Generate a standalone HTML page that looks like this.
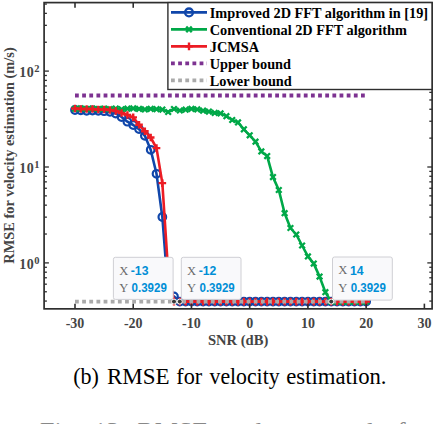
<!DOCTYPE html>
<html><head><meta charset="utf-8"><style>
html,body{margin:0;padding:0;background:#fff;width:434px;height:424px;overflow:hidden;position:relative}
</style></head><body>
<svg width="434" height="424" viewBox="0 0 434 424" style="position:absolute;left:0;top:0">
<defs><clipPath id="c"><rect x="44.1" y="2.6" width="388.0" height="306.25"/></clipPath></defs>
<g clip-path="url(#c)">
<polyline points="75.00,110.00 80.82,110.40 86.65,110.80 92.47,110.50 98.29,110.80 104.12,111.20 109.94,111.80 115.76,113.50 121.58,117.00 127.41,121.70 133.23,125.00 139.05,129.10 144.88,135.80 150.70,149.80 156.52,173.80 162.34,217.00 168.17,292.00 173.99,296.50 179.81,301.60 185.64,301.60 191.46,301.60 197.28,301.60 203.11,301.60 208.93,301.60 214.75,301.60 220.58,301.60 226.40,301.60 232.22,301.60 238.04,301.60 243.87,301.60 249.69,301.60 255.51,301.60 261.34,301.60 267.16,301.60 272.98,301.60 278.81,301.60 284.63,301.60 290.45,301.60 296.27,301.60 302.10,301.60 307.92,301.60 313.74,301.60 319.57,301.60 325.39,301.60 331.21,301.60 337.04,301.60 342.86,301.60 348.68,301.60 354.50,301.60 360.33,301.60 366.15,301.60" fill="none" stroke="#1046aa" stroke-width="2.6" stroke-linejoin="round"/>
<circle cx="75.00" cy="110.00" r="3.8" fill="none" stroke="#1046aa" stroke-width="2.2"/>
<circle cx="80.82" cy="110.40" r="3.8" fill="none" stroke="#1046aa" stroke-width="2.2"/>
<circle cx="86.65" cy="110.80" r="3.8" fill="none" stroke="#1046aa" stroke-width="2.2"/>
<circle cx="92.47" cy="110.50" r="3.8" fill="none" stroke="#1046aa" stroke-width="2.2"/>
<circle cx="98.29" cy="110.80" r="3.8" fill="none" stroke="#1046aa" stroke-width="2.2"/>
<circle cx="104.12" cy="111.20" r="3.8" fill="none" stroke="#1046aa" stroke-width="2.2"/>
<circle cx="109.94" cy="111.80" r="3.8" fill="none" stroke="#1046aa" stroke-width="2.2"/>
<circle cx="115.76" cy="113.50" r="3.8" fill="none" stroke="#1046aa" stroke-width="2.2"/>
<circle cx="121.58" cy="117.00" r="3.8" fill="none" stroke="#1046aa" stroke-width="2.2"/>
<circle cx="127.41" cy="121.70" r="3.8" fill="none" stroke="#1046aa" stroke-width="2.2"/>
<circle cx="133.23" cy="125.00" r="3.8" fill="none" stroke="#1046aa" stroke-width="2.2"/>
<circle cx="139.05" cy="129.10" r="3.8" fill="none" stroke="#1046aa" stroke-width="2.2"/>
<circle cx="144.88" cy="135.80" r="3.8" fill="none" stroke="#1046aa" stroke-width="2.2"/>
<circle cx="150.70" cy="149.80" r="3.8" fill="none" stroke="#1046aa" stroke-width="2.2"/>
<circle cx="156.52" cy="173.80" r="3.8" fill="none" stroke="#1046aa" stroke-width="2.2"/>
<circle cx="162.34" cy="217.00" r="3.8" fill="none" stroke="#1046aa" stroke-width="2.2"/>
<circle cx="168.17" cy="292.00" r="3.8" fill="none" stroke="#1046aa" stroke-width="2.2"/>
<circle cx="173.99" cy="296.50" r="3.8" fill="none" stroke="#1046aa" stroke-width="2.2"/>
<circle cx="179.81" cy="301.60" r="3.8" fill="none" stroke="#1046aa" stroke-width="2.2"/>
<circle cx="185.64" cy="301.60" r="3.8" fill="none" stroke="#1046aa" stroke-width="2.2"/>
<circle cx="191.46" cy="301.60" r="3.8" fill="none" stroke="#1046aa" stroke-width="2.2"/>
<circle cx="197.28" cy="301.60" r="3.8" fill="none" stroke="#1046aa" stroke-width="2.2"/>
<circle cx="203.11" cy="301.60" r="3.8" fill="none" stroke="#1046aa" stroke-width="2.2"/>
<circle cx="208.93" cy="301.60" r="3.8" fill="none" stroke="#1046aa" stroke-width="2.2"/>
<circle cx="214.75" cy="301.60" r="3.8" fill="none" stroke="#1046aa" stroke-width="2.2"/>
<circle cx="220.58" cy="301.60" r="3.8" fill="none" stroke="#1046aa" stroke-width="2.2"/>
<circle cx="226.40" cy="301.60" r="3.8" fill="none" stroke="#1046aa" stroke-width="2.2"/>
<circle cx="232.22" cy="301.60" r="3.8" fill="none" stroke="#1046aa" stroke-width="2.2"/>
<circle cx="238.04" cy="301.60" r="3.8" fill="none" stroke="#1046aa" stroke-width="2.2"/>
<circle cx="243.87" cy="301.60" r="3.8" fill="none" stroke="#1046aa" stroke-width="2.2"/>
<circle cx="249.69" cy="301.60" r="3.8" fill="none" stroke="#1046aa" stroke-width="2.2"/>
<circle cx="255.51" cy="301.60" r="3.8" fill="none" stroke="#1046aa" stroke-width="2.2"/>
<circle cx="261.34" cy="301.60" r="3.8" fill="none" stroke="#1046aa" stroke-width="2.2"/>
<circle cx="267.16" cy="301.60" r="3.8" fill="none" stroke="#1046aa" stroke-width="2.2"/>
<circle cx="272.98" cy="301.60" r="3.8" fill="none" stroke="#1046aa" stroke-width="2.2"/>
<circle cx="278.81" cy="301.60" r="3.8" fill="none" stroke="#1046aa" stroke-width="2.2"/>
<circle cx="284.63" cy="301.60" r="3.8" fill="none" stroke="#1046aa" stroke-width="2.2"/>
<circle cx="290.45" cy="301.60" r="3.8" fill="none" stroke="#1046aa" stroke-width="2.2"/>
<circle cx="296.27" cy="301.60" r="3.8" fill="none" stroke="#1046aa" stroke-width="2.2"/>
<circle cx="302.10" cy="301.60" r="3.8" fill="none" stroke="#1046aa" stroke-width="2.2"/>
<circle cx="307.92" cy="301.60" r="3.8" fill="none" stroke="#1046aa" stroke-width="2.2"/>
<circle cx="313.74" cy="301.60" r="3.8" fill="none" stroke="#1046aa" stroke-width="2.2"/>
<circle cx="319.57" cy="301.60" r="3.8" fill="none" stroke="#1046aa" stroke-width="2.2"/>
<circle cx="325.39" cy="301.60" r="3.8" fill="none" stroke="#1046aa" stroke-width="2.2"/>
<circle cx="331.21" cy="301.60" r="3.8" fill="none" stroke="#1046aa" stroke-width="2.2"/>
<circle cx="337.04" cy="301.60" r="3.8" fill="none" stroke="#1046aa" stroke-width="2.2"/>
<circle cx="342.86" cy="301.60" r="3.8" fill="none" stroke="#1046aa" stroke-width="2.2"/>
<circle cx="348.68" cy="301.60" r="3.8" fill="none" stroke="#1046aa" stroke-width="2.2"/>
<circle cx="354.50" cy="301.60" r="3.8" fill="none" stroke="#1046aa" stroke-width="2.2"/>
<circle cx="360.33" cy="301.60" r="3.8" fill="none" stroke="#1046aa" stroke-width="2.2"/>
<circle cx="366.15" cy="301.60" r="3.8" fill="none" stroke="#1046aa" stroke-width="2.2"/>
<polyline points="75.00,108.80 80.82,108.40 86.65,109.00 92.47,108.50 98.29,109.00 104.12,108.60 109.94,109.20 115.76,108.60 121.58,109.30 127.41,108.70 133.23,108.40 139.05,108.90 144.88,109.40 150.70,108.80 156.52,109.20 162.34,109.60 168.17,112.00 173.99,109.00 179.81,110.50 185.64,109.70 191.46,108.80 197.28,109.40 203.11,110.70 208.93,111.60 214.75,112.90 220.58,113.40 226.40,116.20 232.22,120.00 238.04,122.40 243.87,129.30 249.69,135.30 255.51,141.70 261.34,151.40 267.16,156.10 272.98,177.10 278.81,190.00 284.63,213.20 290.45,228.00 296.27,234.50 302.10,245.50 307.92,256.40 313.74,263.60 319.57,276.60 325.39,292.20 331.21,301.60 337.04,301.60 342.86,301.60 348.68,301.60 354.50,301.60 360.33,301.60 366.15,301.60" fill="none" stroke="#00a848" stroke-width="2.6" stroke-linejoin="round"/>
<path d="M72.20,106.00L77.80,111.60M72.20,111.60L77.80,106.00" stroke="#00a848" stroke-width="2.3"/>
<path d="M78.02,105.60L83.62,111.20M78.02,111.20L83.62,105.60" stroke="#00a848" stroke-width="2.3"/>
<path d="M83.85,106.20L89.45,111.80M83.85,111.80L89.45,106.20" stroke="#00a848" stroke-width="2.3"/>
<path d="M89.67,105.70L95.27,111.30M89.67,111.30L95.27,105.70" stroke="#00a848" stroke-width="2.3"/>
<path d="M95.49,106.20L101.09,111.80M95.49,111.80L101.09,106.20" stroke="#00a848" stroke-width="2.3"/>
<path d="M101.32,105.80L106.92,111.40M101.32,111.40L106.92,105.80" stroke="#00a848" stroke-width="2.3"/>
<path d="M107.14,106.40L112.74,112.00M107.14,112.00L112.74,106.40" stroke="#00a848" stroke-width="2.3"/>
<path d="M112.96,105.80L118.56,111.40M112.96,111.40L118.56,105.80" stroke="#00a848" stroke-width="2.3"/>
<path d="M118.78,106.50L124.38,112.10M118.78,112.10L124.38,106.50" stroke="#00a848" stroke-width="2.3"/>
<path d="M124.61,105.90L130.21,111.50M124.61,111.50L130.21,105.90" stroke="#00a848" stroke-width="2.3"/>
<path d="M130.43,105.60L136.03,111.20M130.43,111.20L136.03,105.60" stroke="#00a848" stroke-width="2.3"/>
<path d="M136.25,106.10L141.85,111.70M136.25,111.70L141.85,106.10" stroke="#00a848" stroke-width="2.3"/>
<path d="M142.08,106.60L147.68,112.20M142.08,112.20L147.68,106.60" stroke="#00a848" stroke-width="2.3"/>
<path d="M147.90,106.00L153.50,111.60M147.90,111.60L153.50,106.00" stroke="#00a848" stroke-width="2.3"/>
<path d="M153.72,106.40L159.32,112.00M153.72,112.00L159.32,106.40" stroke="#00a848" stroke-width="2.3"/>
<path d="M159.54,106.80L165.15,112.40M159.54,112.40L165.15,106.80" stroke="#00a848" stroke-width="2.3"/>
<path d="M165.37,109.20L170.97,114.80M165.37,114.80L170.97,109.20" stroke="#00a848" stroke-width="2.3"/>
<path d="M171.19,106.20L176.79,111.80M171.19,111.80L176.79,106.20" stroke="#00a848" stroke-width="2.3"/>
<path d="M177.01,107.70L182.61,113.30M177.01,113.30L182.61,107.70" stroke="#00a848" stroke-width="2.3"/>
<path d="M182.84,106.90L188.44,112.50M182.84,112.50L188.44,106.90" stroke="#00a848" stroke-width="2.3"/>
<path d="M188.66,106.00L194.26,111.60M188.66,111.60L194.26,106.00" stroke="#00a848" stroke-width="2.3"/>
<path d="M194.48,106.60L200.08,112.20M194.48,112.20L200.08,106.60" stroke="#00a848" stroke-width="2.3"/>
<path d="M200.31,107.90L205.91,113.50M200.31,113.50L205.91,107.90" stroke="#00a848" stroke-width="2.3"/>
<path d="M206.13,108.80L211.73,114.40M206.13,114.40L211.73,108.80" stroke="#00a848" stroke-width="2.3"/>
<path d="M211.95,110.10L217.55,115.70M211.95,115.70L217.55,110.10" stroke="#00a848" stroke-width="2.3"/>
<path d="M217.78,110.60L223.38,116.20M217.78,116.20L223.38,110.60" stroke="#00a848" stroke-width="2.3"/>
<path d="M223.60,113.40L229.20,119.00M223.60,119.00L229.20,113.40" stroke="#00a848" stroke-width="2.3"/>
<path d="M229.42,117.20L235.02,122.80M229.42,122.80L235.02,117.20" stroke="#00a848" stroke-width="2.3"/>
<path d="M235.24,119.60L240.84,125.20M235.24,125.20L240.84,119.60" stroke="#00a848" stroke-width="2.3"/>
<path d="M241.07,126.50L246.67,132.10M241.07,132.10L246.67,126.50" stroke="#00a848" stroke-width="2.3"/>
<path d="M246.89,132.50L252.49,138.10M246.89,138.10L252.49,132.50" stroke="#00a848" stroke-width="2.3"/>
<path d="M252.71,138.90L258.31,144.50M252.71,144.50L258.31,138.90" stroke="#00a848" stroke-width="2.3"/>
<path d="M258.54,148.60L264.14,154.20M258.54,154.20L264.14,148.60" stroke="#00a848" stroke-width="2.3"/>
<path d="M264.36,153.30L269.96,158.90M264.36,158.90L269.96,153.30" stroke="#00a848" stroke-width="2.3"/>
<path d="M270.18,174.30L275.78,179.90M270.18,179.90L275.78,174.30" stroke="#00a848" stroke-width="2.3"/>
<path d="M276.00,187.20L281.61,192.80M276.00,192.80L281.61,187.20" stroke="#00a848" stroke-width="2.3"/>
<path d="M281.83,210.40L287.43,216.00M281.83,216.00L287.43,210.40" stroke="#00a848" stroke-width="2.3"/>
<path d="M287.65,225.20L293.25,230.80M287.65,230.80L293.25,225.20" stroke="#00a848" stroke-width="2.3"/>
<path d="M293.47,231.70L299.07,237.30M293.47,237.30L299.07,231.70" stroke="#00a848" stroke-width="2.3"/>
<path d="M299.30,242.70L304.90,248.30M299.30,248.30L304.90,242.70" stroke="#00a848" stroke-width="2.3"/>
<path d="M305.12,253.60L310.72,259.20M305.12,259.20L310.72,253.60" stroke="#00a848" stroke-width="2.3"/>
<path d="M310.94,260.80L316.54,266.40M310.94,266.40L316.54,260.80" stroke="#00a848" stroke-width="2.3"/>
<path d="M316.77,273.80L322.37,279.40M316.77,279.40L322.37,273.80" stroke="#00a848" stroke-width="2.3"/>
<path d="M322.59,289.40L328.19,295.00M322.59,295.00L328.19,289.40" stroke="#00a848" stroke-width="2.3"/>
<path d="M328.41,298.80L334.01,304.40M328.41,304.40L334.01,298.80" stroke="#00a848" stroke-width="2.3"/>
<path d="M334.24,298.80L339.84,304.40M334.24,304.40L339.84,298.80" stroke="#00a848" stroke-width="2.3"/>
<path d="M340.06,298.80L345.66,304.40M340.06,304.40L345.66,298.80" stroke="#00a848" stroke-width="2.3"/>
<path d="M345.88,298.80L351.48,304.40M345.88,304.40L351.48,298.80" stroke="#00a848" stroke-width="2.3"/>
<path d="M351.70,298.80L357.30,304.40M351.70,304.40L357.30,298.80" stroke="#00a848" stroke-width="2.3"/>
<path d="M357.53,298.80L363.13,304.40M357.53,304.40L363.13,298.80" stroke="#00a848" stroke-width="2.3"/>
<path d="M363.35,298.80L368.95,304.40M363.35,304.40L368.95,298.80" stroke="#00a848" stroke-width="2.3"/>
<polyline points="75.00,108.50 80.82,109.00 86.65,109.00 92.47,109.00 98.29,109.50 104.12,109.50 109.94,110.00 115.76,111.00 121.58,113.00 127.41,115.00 133.23,117.40 139.05,124.80 144.88,131.20 150.70,137.50 156.52,148.10 162.34,183.10 168.17,272.00 173.99,301.60 179.81,301.60 185.64,301.60 191.46,301.60 197.28,301.60 203.11,301.60 208.93,301.60 214.75,301.60 220.58,301.60 226.40,301.60 232.22,301.60 238.04,301.60 243.87,301.60 249.69,301.60 255.51,301.60 261.34,301.60 267.16,301.60 272.98,301.60 278.81,301.60 284.63,301.60 290.45,301.60 296.27,301.60 302.10,301.60 307.92,301.60 313.74,301.60 319.57,301.60 325.39,301.60 331.21,301.60 337.04,301.60 342.86,301.60 348.68,301.60 354.50,301.60 360.33,301.60 366.15,301.60" fill="none" stroke="#ec1c24" stroke-width="2.6" stroke-linejoin="round"/>
<path d="M71.20,108.50H78.80M75.00,104.70V112.30" stroke="#ec1c24" stroke-width="2.4"/>
<path d="M77.02,109.00H84.62M80.82,105.20V112.80" stroke="#ec1c24" stroke-width="2.4"/>
<path d="M82.85,109.00H90.45M86.65,105.20V112.80" stroke="#ec1c24" stroke-width="2.4"/>
<path d="M88.67,109.00H96.27M92.47,105.20V112.80" stroke="#ec1c24" stroke-width="2.4"/>
<path d="M94.49,109.50H102.09M98.29,105.70V113.30" stroke="#ec1c24" stroke-width="2.4"/>
<path d="M100.32,109.50H107.92M104.12,105.70V113.30" stroke="#ec1c24" stroke-width="2.4"/>
<path d="M106.14,110.00H113.74M109.94,106.20V113.80" stroke="#ec1c24" stroke-width="2.4"/>
<path d="M111.96,111.00H119.56M115.76,107.20V114.80" stroke="#ec1c24" stroke-width="2.4"/>
<path d="M117.78,113.00H125.38M121.58,109.20V116.80" stroke="#ec1c24" stroke-width="2.4"/>
<path d="M123.61,115.00H131.21M127.41,111.20V118.80" stroke="#ec1c24" stroke-width="2.4"/>
<path d="M129.43,117.40H137.03M133.23,113.60V121.20" stroke="#ec1c24" stroke-width="2.4"/>
<path d="M135.25,124.80H142.85M139.05,121.00V128.60" stroke="#ec1c24" stroke-width="2.4"/>
<path d="M141.08,131.20H148.68M144.88,127.40V135.00" stroke="#ec1c24" stroke-width="2.4"/>
<path d="M146.90,137.50H154.50M150.70,133.70V141.30" stroke="#ec1c24" stroke-width="2.4"/>
<path d="M152.72,148.10H160.32M156.52,144.30V151.90" stroke="#ec1c24" stroke-width="2.4"/>
<path d="M158.54,183.10H166.15M162.34,179.30V186.90" stroke="#ec1c24" stroke-width="2.4"/>
<path d="M164.37,272.00H171.97M168.17,268.20V275.80" stroke="#ec1c24" stroke-width="2.4"/>
<path d="M170.19,301.60H177.79M173.99,297.80V305.40" stroke="#ec1c24" stroke-width="2.4"/>
<path d="M176.01,301.60H183.61M179.81,297.80V305.40" stroke="#ec1c24" stroke-width="2.4"/>
<path d="M181.84,301.60H189.44M185.64,297.80V305.40" stroke="#ec1c24" stroke-width="2.4"/>
<path d="M187.66,301.60H195.26M191.46,297.80V305.40" stroke="#ec1c24" stroke-width="2.4"/>
<path d="M193.48,301.60H201.08M197.28,297.80V305.40" stroke="#ec1c24" stroke-width="2.4"/>
<path d="M199.31,301.60H206.91M203.11,297.80V305.40" stroke="#ec1c24" stroke-width="2.4"/>
<path d="M205.13,301.60H212.73M208.93,297.80V305.40" stroke="#ec1c24" stroke-width="2.4"/>
<path d="M210.95,301.60H218.55M214.75,297.80V305.40" stroke="#ec1c24" stroke-width="2.4"/>
<path d="M216.78,301.60H224.38M220.58,297.80V305.40" stroke="#ec1c24" stroke-width="2.4"/>
<path d="M222.60,301.60H230.20M226.40,297.80V305.40" stroke="#ec1c24" stroke-width="2.4"/>
<path d="M228.42,301.60H236.02M232.22,297.80V305.40" stroke="#ec1c24" stroke-width="2.4"/>
<path d="M234.24,301.60H241.84M238.04,297.80V305.40" stroke="#ec1c24" stroke-width="2.4"/>
<path d="M240.07,301.60H247.67M243.87,297.80V305.40" stroke="#ec1c24" stroke-width="2.4"/>
<path d="M245.89,301.60H253.49M249.69,297.80V305.40" stroke="#ec1c24" stroke-width="2.4"/>
<path d="M251.71,301.60H259.31M255.51,297.80V305.40" stroke="#ec1c24" stroke-width="2.4"/>
<path d="M257.54,301.60H265.14M261.34,297.80V305.40" stroke="#ec1c24" stroke-width="2.4"/>
<path d="M263.36,301.60H270.96M267.16,297.80V305.40" stroke="#ec1c24" stroke-width="2.4"/>
<path d="M269.18,301.60H276.78M272.98,297.80V305.40" stroke="#ec1c24" stroke-width="2.4"/>
<path d="M275.00,301.60H282.61M278.81,297.80V305.40" stroke="#ec1c24" stroke-width="2.4"/>
<path d="M280.83,301.60H288.43M284.63,297.80V305.40" stroke="#ec1c24" stroke-width="2.4"/>
<path d="M286.65,301.60H294.25M290.45,297.80V305.40" stroke="#ec1c24" stroke-width="2.4"/>
<path d="M292.47,301.60H300.07M296.27,297.80V305.40" stroke="#ec1c24" stroke-width="2.4"/>
<path d="M298.30,301.60H305.90M302.10,297.80V305.40" stroke="#ec1c24" stroke-width="2.4"/>
<path d="M304.12,301.60H311.72M307.92,297.80V305.40" stroke="#ec1c24" stroke-width="2.4"/>
<path d="M309.94,301.60H317.54M313.74,297.80V305.40" stroke="#ec1c24" stroke-width="2.4"/>
<path d="M315.77,301.60H323.37M319.57,297.80V305.40" stroke="#ec1c24" stroke-width="2.4"/>
<path d="M321.59,301.60H329.19M325.39,297.80V305.40" stroke="#ec1c24" stroke-width="2.4"/>
<path d="M327.41,301.60H335.01M331.21,297.80V305.40" stroke="#ec1c24" stroke-width="2.4"/>
<path d="M333.24,301.60H340.84M337.04,297.80V305.40" stroke="#ec1c24" stroke-width="2.4"/>
<path d="M339.06,301.60H346.66M342.86,297.80V305.40" stroke="#ec1c24" stroke-width="2.4"/>
<path d="M344.88,301.60H352.48M348.68,297.80V305.40" stroke="#ec1c24" stroke-width="2.4"/>
<path d="M350.70,301.60H358.30M354.50,297.80V305.40" stroke="#ec1c24" stroke-width="2.4"/>
<path d="M356.53,301.60H364.13M360.33,297.80V305.40" stroke="#ec1c24" stroke-width="2.4"/>
<path d="M362.35,301.60H369.95M366.15,297.80V305.40" stroke="#ec1c24" stroke-width="2.4"/>
<line x1="75.0" y1="95.5" x2="366.15000000000003" y2="95.5" stroke="#7d3291" stroke-width="3.8" stroke-dasharray="3.8 3.35"/>
<line x1="75.0" y1="301.6" x2="366.15000000000003" y2="301.6" stroke="#aaaaaa" stroke-width="3.8" stroke-dasharray="3.8 3.35"/>
</g>
<rect x="44.1" y="2.6" width="388.0" height="306.25" fill="none" stroke="#2e2e2e" stroke-width="1.7"/>
<line x1="75.00" y1="308.85" x2="75.00" y2="303.65000000000003" stroke="#2e2e2e" stroke-width="1.6"/>
<line x1="75.00" y1="2.6" x2="75.00" y2="7.800000000000001" stroke="#2e2e2e" stroke-width="1.6"/>
<line x1="133.23" y1="308.85" x2="133.23" y2="303.65000000000003" stroke="#2e2e2e" stroke-width="1.6"/>
<line x1="133.23" y1="2.6" x2="133.23" y2="7.800000000000001" stroke="#2e2e2e" stroke-width="1.6"/>
<line x1="191.46" y1="308.85" x2="191.46" y2="303.65000000000003" stroke="#2e2e2e" stroke-width="1.6"/>
<line x1="191.46" y1="2.6" x2="191.46" y2="7.800000000000001" stroke="#2e2e2e" stroke-width="1.6"/>
<line x1="249.69" y1="308.85" x2="249.69" y2="303.65000000000003" stroke="#2e2e2e" stroke-width="1.6"/>
<line x1="249.69" y1="2.6" x2="249.69" y2="7.800000000000001" stroke="#2e2e2e" stroke-width="1.6"/>
<line x1="307.92" y1="308.85" x2="307.92" y2="303.65000000000003" stroke="#2e2e2e" stroke-width="1.6"/>
<line x1="307.92" y1="2.6" x2="307.92" y2="7.800000000000001" stroke="#2e2e2e" stroke-width="1.6"/>
<line x1="366.15" y1="308.85" x2="366.15" y2="303.65000000000003" stroke="#2e2e2e" stroke-width="1.6"/>
<line x1="366.15" y1="2.6" x2="366.15" y2="7.800000000000001" stroke="#2e2e2e" stroke-width="1.6"/>
<line x1="424.38" y1="308.85" x2="424.38" y2="303.65000000000003" stroke="#2e2e2e" stroke-width="1.6"/>
<line x1="424.38" y1="2.6" x2="424.38" y2="7.800000000000001" stroke="#2e2e2e" stroke-width="1.6"/>
<line x1="44.1" y1="262.90" x2="48.9" y2="262.90" stroke="#2e2e2e" stroke-width="1.3"/>
<line x1="432.1" y1="262.90" x2="427.3" y2="262.90" stroke="#2e2e2e" stroke-width="1.3"/>
<line x1="44.1" y1="234.03" x2="46.9" y2="234.03" stroke="#2e2e2e" stroke-width="1.3"/>
<line x1="432.1" y1="234.03" x2="429.3" y2="234.03" stroke="#2e2e2e" stroke-width="1.3"/>
<line x1="44.1" y1="217.14" x2="46.9" y2="217.14" stroke="#2e2e2e" stroke-width="1.3"/>
<line x1="432.1" y1="217.14" x2="429.3" y2="217.14" stroke="#2e2e2e" stroke-width="1.3"/>
<line x1="44.1" y1="205.16" x2="46.9" y2="205.16" stroke="#2e2e2e" stroke-width="1.3"/>
<line x1="432.1" y1="205.16" x2="429.3" y2="205.16" stroke="#2e2e2e" stroke-width="1.3"/>
<line x1="44.1" y1="195.87" x2="46.9" y2="195.87" stroke="#2e2e2e" stroke-width="1.3"/>
<line x1="432.1" y1="195.87" x2="429.3" y2="195.87" stroke="#2e2e2e" stroke-width="1.3"/>
<line x1="44.1" y1="188.28" x2="46.9" y2="188.28" stroke="#2e2e2e" stroke-width="1.3"/>
<line x1="432.1" y1="188.28" x2="429.3" y2="188.28" stroke="#2e2e2e" stroke-width="1.3"/>
<line x1="44.1" y1="181.86" x2="46.9" y2="181.86" stroke="#2e2e2e" stroke-width="1.3"/>
<line x1="432.1" y1="181.86" x2="429.3" y2="181.86" stroke="#2e2e2e" stroke-width="1.3"/>
<line x1="44.1" y1="176.29" x2="46.9" y2="176.29" stroke="#2e2e2e" stroke-width="1.3"/>
<line x1="432.1" y1="176.29" x2="429.3" y2="176.29" stroke="#2e2e2e" stroke-width="1.3"/>
<line x1="44.1" y1="171.39" x2="46.9" y2="171.39" stroke="#2e2e2e" stroke-width="1.3"/>
<line x1="432.1" y1="171.39" x2="429.3" y2="171.39" stroke="#2e2e2e" stroke-width="1.3"/>
<line x1="44.1" y1="167.00" x2="48.9" y2="167.00" stroke="#2e2e2e" stroke-width="1.3"/>
<line x1="432.1" y1="167.00" x2="427.3" y2="167.00" stroke="#2e2e2e" stroke-width="1.3"/>
<line x1="44.1" y1="138.13" x2="46.9" y2="138.13" stroke="#2e2e2e" stroke-width="1.3"/>
<line x1="432.1" y1="138.13" x2="429.3" y2="138.13" stroke="#2e2e2e" stroke-width="1.3"/>
<line x1="44.1" y1="121.24" x2="46.9" y2="121.24" stroke="#2e2e2e" stroke-width="1.3"/>
<line x1="432.1" y1="121.24" x2="429.3" y2="121.24" stroke="#2e2e2e" stroke-width="1.3"/>
<line x1="44.1" y1="109.26" x2="46.9" y2="109.26" stroke="#2e2e2e" stroke-width="1.3"/>
<line x1="432.1" y1="109.26" x2="429.3" y2="109.26" stroke="#2e2e2e" stroke-width="1.3"/>
<line x1="44.1" y1="99.97" x2="46.9" y2="99.97" stroke="#2e2e2e" stroke-width="1.3"/>
<line x1="432.1" y1="99.97" x2="429.3" y2="99.97" stroke="#2e2e2e" stroke-width="1.3"/>
<line x1="44.1" y1="92.38" x2="46.9" y2="92.38" stroke="#2e2e2e" stroke-width="1.3"/>
<line x1="432.1" y1="92.38" x2="429.3" y2="92.38" stroke="#2e2e2e" stroke-width="1.3"/>
<line x1="44.1" y1="85.96" x2="46.9" y2="85.96" stroke="#2e2e2e" stroke-width="1.3"/>
<line x1="432.1" y1="85.96" x2="429.3" y2="85.96" stroke="#2e2e2e" stroke-width="1.3"/>
<line x1="44.1" y1="80.39" x2="46.9" y2="80.39" stroke="#2e2e2e" stroke-width="1.3"/>
<line x1="432.1" y1="80.39" x2="429.3" y2="80.39" stroke="#2e2e2e" stroke-width="1.3"/>
<line x1="44.1" y1="75.49" x2="46.9" y2="75.49" stroke="#2e2e2e" stroke-width="1.3"/>
<line x1="432.1" y1="75.49" x2="429.3" y2="75.49" stroke="#2e2e2e" stroke-width="1.3"/>
<line x1="44.1" y1="71.10" x2="48.9" y2="71.10" stroke="#2e2e2e" stroke-width="1.3"/>
<line x1="432.1" y1="71.10" x2="427.3" y2="71.10" stroke="#2e2e2e" stroke-width="1.3"/>
<line x1="44.1" y1="42.23" x2="46.9" y2="42.23" stroke="#2e2e2e" stroke-width="1.3"/>
<line x1="432.1" y1="42.23" x2="429.3" y2="42.23" stroke="#2e2e2e" stroke-width="1.3"/>
<line x1="44.1" y1="25.34" x2="46.9" y2="25.34" stroke="#2e2e2e" stroke-width="1.3"/>
<line x1="432.1" y1="25.34" x2="429.3" y2="25.34" stroke="#2e2e2e" stroke-width="1.3"/>
<line x1="44.1" y1="13.36" x2="46.9" y2="13.36" stroke="#2e2e2e" stroke-width="1.3"/>
<line x1="432.1" y1="13.36" x2="429.3" y2="13.36" stroke="#2e2e2e" stroke-width="1.3"/>
<line x1="44.1" y1="4.07" x2="46.9" y2="4.07" stroke="#2e2e2e" stroke-width="1.3"/>
<line x1="432.1" y1="4.07" x2="429.3" y2="4.07" stroke="#2e2e2e" stroke-width="1.3"/>
<line x1="44.1" y1="301.06" x2="46.9" y2="301.06" stroke="#2e2e2e" stroke-width="1.3"/>
<line x1="432.1" y1="301.06" x2="429.3" y2="301.06" stroke="#2e2e2e" stroke-width="1.3"/>
<line x1="44.1" y1="291.77" x2="46.9" y2="291.77" stroke="#2e2e2e" stroke-width="1.3"/>
<line x1="432.1" y1="291.77" x2="429.3" y2="291.77" stroke="#2e2e2e" stroke-width="1.3"/>
<line x1="44.1" y1="284.18" x2="46.9" y2="284.18" stroke="#2e2e2e" stroke-width="1.3"/>
<line x1="432.1" y1="284.18" x2="429.3" y2="284.18" stroke="#2e2e2e" stroke-width="1.3"/>
<line x1="44.1" y1="277.76" x2="46.9" y2="277.76" stroke="#2e2e2e" stroke-width="1.3"/>
<line x1="432.1" y1="277.76" x2="429.3" y2="277.76" stroke="#2e2e2e" stroke-width="1.3"/>
<line x1="44.1" y1="272.19" x2="46.9" y2="272.19" stroke="#2e2e2e" stroke-width="1.3"/>
<line x1="432.1" y1="272.19" x2="429.3" y2="272.19" stroke="#2e2e2e" stroke-width="1.3"/>
<line x1="44.1" y1="267.29" x2="46.9" y2="267.29" stroke="#2e2e2e" stroke-width="1.3"/>
<line x1="432.1" y1="267.29" x2="429.3" y2="267.29" stroke="#2e2e2e" stroke-width="1.3"/>
<text x="75.00" y="327.5" font-family="Liberation Serif" font-weight="bold" font-size="14" fill="#454545" text-anchor="middle">-30</text>
<text x="133.23" y="327.5" font-family="Liberation Serif" font-weight="bold" font-size="14" fill="#454545" text-anchor="middle">-20</text>
<text x="191.46" y="327.5" font-family="Liberation Serif" font-weight="bold" font-size="14" fill="#454545" text-anchor="middle">-10</text>
<text x="249.69" y="327.5" font-family="Liberation Serif" font-weight="bold" font-size="14" fill="#454545" text-anchor="middle">0</text>
<text x="307.92" y="327.5" font-family="Liberation Serif" font-weight="bold" font-size="14" fill="#454545" text-anchor="middle">10</text>
<text x="366.15" y="327.5" font-family="Liberation Serif" font-weight="bold" font-size="14" fill="#454545" text-anchor="middle">20</text>
<text x="424.38" y="327.5" font-family="Liberation Serif" font-weight="bold" font-size="14" fill="#454545" text-anchor="middle">30</text>
<text x="19.3" y="269.10" font-family="Liberation Serif" font-weight="bold" font-size="14" fill="#454545" letter-spacing="0.5">10</text>
<text x="34.3" y="263.50" font-family="Liberation Serif" font-weight="bold" font-size="10.5" fill="#454545">0</text>
<text x="19.3" y="173.20" font-family="Liberation Serif" font-weight="bold" font-size="14" fill="#454545" letter-spacing="0.5">10</text>
<text x="34.3" y="167.60" font-family="Liberation Serif" font-weight="bold" font-size="10.5" fill="#454545">1</text>
<text x="19.3" y="77.30" font-family="Liberation Serif" font-weight="bold" font-size="14" fill="#454545" letter-spacing="0.5">10</text>
<text x="34.3" y="71.70" font-family="Liberation Serif" font-weight="bold" font-size="10.5" fill="#454545">2</text>
<text x="238.1" y="344.6" font-family="Liberation Serif" font-weight="bold" font-size="14.6" fill="#454545" text-anchor="middle">SNR (dB)</text>
<text transform="translate(13.9,155.5) rotate(-90)" font-family="Liberation Serif" font-weight="bold" font-size="14.4" fill="#454545" text-anchor="middle">RMSE for velocity estimation (m/s)</text>
<rect x="167.9" y="2.6" width="264.1" height="86.9" fill="#fff" stroke="#2e2e2e" stroke-width="1.4"/>
<line x1="171" y1="12.4" x2="207" y2="12.4" stroke="#1046aa" stroke-width="2.6"/>
<circle cx="189" cy="12.4" r="3.9" fill="none" stroke="#1046aa" stroke-width="2.3"/>
<text x="209.8" y="18" font-family="Liberation Serif" font-weight="bold" font-size="14.3" fill="#000">Improved 2D FFT algorithm in [19]</text>
<line x1="171" y1="29.4" x2="207" y2="29.4" stroke="#00a848" stroke-width="2.6"/>
<path d="M186.2,26.599999999999998L191.8,32.199999999999996M186.2,32.199999999999996L191.8,26.599999999999998" stroke="#00a848" stroke-width="2.4"/>
<text x="209.8" y="35" font-family="Liberation Serif" font-weight="bold" font-size="14.3" fill="#000">Conventional 2D FFT algorithm</text>
<line x1="171" y1="46.4" x2="207" y2="46.4" stroke="#ec1c24" stroke-width="2.6"/>
<path d="M185.2,46.4H192.8M189,42.6V50.199999999999996" stroke="#ec1c24" stroke-width="2.4"/>
<text x="209.8" y="52" font-family="Liberation Serif" font-weight="bold" font-size="14.3" fill="#000">JCMSA</text>
<line x1="171" y1="63.4" x2="207" y2="63.4" stroke="#7d3291" stroke-width="3.8" stroke-dasharray="3.8 3.35"/>
<text x="209.8" y="69" font-family="Liberation Serif" font-weight="bold" font-size="14.3" fill="#000">Upper bound</text>
<line x1="171" y1="80.4" x2="207" y2="80.4" stroke="#aaaaaa" stroke-width="3.8" stroke-dasharray="3.8 3.35"/>
<text x="209.8" y="86" font-family="Liberation Serif" font-weight="bold" font-size="14.3" fill="#000">Lower bound</text>
<rect x="113.4" y="257.3" width="59.7" height="42.1" rx="2" fill="#f9f9fb" stroke="#cfcfd4" stroke-width="1"/>
<text x="119.2" y="274.7" font-family="Liberation Serif" font-size="12.6" fill="#6a6a6a">X</text>
<text x="130.8" y="275.1" font-family="Liberation Sans" font-weight="bold" font-size="12.2" fill="#008ed6">-13</text>
<text x="119.2" y="291.8" font-family="Liberation Serif" font-size="12.6" fill="#6a6a6a">Y</text>
<text x="131.6" y="291.90000000000003" font-family="Liberation Sans" font-weight="bold" font-size="12" fill="#008ed6" textLength="35.2" lengthAdjust="spacingAndGlyphs">0.3929</text>
<rect x="181.3" y="257.3" width="59.7" height="42.1" rx="2" fill="#f9f9fb" stroke="#cfcfd4" stroke-width="1"/>
<text x="187.10000000000002" y="274.7" font-family="Liberation Serif" font-size="12.6" fill="#6a6a6a">X</text>
<text x="198.70000000000002" y="275.1" font-family="Liberation Sans" font-weight="bold" font-size="12.2" fill="#008ed6">-12</text>
<text x="187.10000000000002" y="291.8" font-family="Liberation Serif" font-size="12.6" fill="#6a6a6a">Y</text>
<text x="199.5" y="291.90000000000003" font-family="Liberation Sans" font-weight="bold" font-size="12" fill="#008ed6" textLength="35.2" lengthAdjust="spacingAndGlyphs">0.3929</text>
<rect x="332.5" y="257.0" width="59.8" height="43.1" rx="2" fill="#f9f9fb" stroke="#cfcfd4" stroke-width="1"/>
<text x="338.3" y="274.4" font-family="Liberation Serif" font-size="12.6" fill="#6a6a6a">X</text>
<text x="349.9" y="274.8" font-family="Liberation Sans" font-weight="bold" font-size="12.2" fill="#008ed6">14</text>
<text x="338.3" y="291.5" font-family="Liberation Serif" font-size="12.6" fill="#6a6a6a">Y</text>
<text x="350.7" y="291.6" font-family="Liberation Sans" font-weight="bold" font-size="12" fill="#008ed6" textLength="35.2" lengthAdjust="spacingAndGlyphs">0.3929</text>
<circle cx="173.99" cy="301.6" r="2.5" fill="#3a3a3a" stroke="#fff" stroke-width="1"/>
<circle cx="179.81" cy="301.6" r="2.5" fill="#3a3a3a" stroke="#fff" stroke-width="1"/>
<circle cx="331.21" cy="301.6" r="2.5" fill="#3a3a3a" stroke="#fff" stroke-width="1"/>
<text transform="translate(73.2,384.2) scale(0.96,1)" font-family="Liberation Serif" font-size="23" fill="#000">(b)</text>
<text transform="translate(107.0,384.2) scale(1.0,1)" font-family="Liberation Serif" font-size="23" fill="#000">RMSE</text>
<text transform="translate(176.3,384.2) scale(0.97,1)" font-family="Liberation Serif" font-size="23" fill="#000">for</text>
<text transform="translate(209.5,384.2) scale(0.947,1)" font-family="Liberation Serif" font-size="23" fill="#000">velocity</text>
<text transform="translate(286.2,384.2) scale(0.988,1)" font-family="Liberation Serif" font-size="23" fill="#000">estimation.</text>
<text x="40" y="440.1" font-family="Liberation Serif" font-size="26" fill="#888">Fig.</text>
<text x="93.5" y="440.1" font-family="Liberation Serif" font-size="26" fill="#888">13.</text>
<text x="137.5" y="440.1" font-family="Liberation Serif" font-size="26" fill="#888">RMSE</text>
<text x="249" y="440.1" font-family="Liberation Serif" font-size="26" fill="#888">d</text>
<text x="367" y="440.1" font-family="Liberation Serif" font-size="26" fill="#888">l</text>
<text x="397" y="440.1" font-family="Liberation Serif" font-size="26" fill="#888">f</text>
</svg>
</body></html>
